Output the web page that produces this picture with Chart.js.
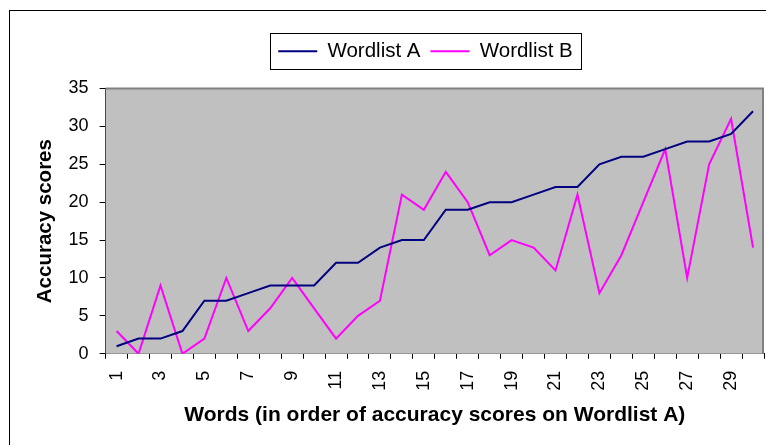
<!DOCTYPE html>
<html>
<head>
<meta charset="utf-8">
<script src="https://cdn.jsdelivr.net/npm/chart.js@4"></script>
<style>
  html, body { margin: 0; padding: 0; background: #fff; }
  #wrap { width: 766px; height: 445px; }
</style>
</head>
<body>
<div id="wrap"><canvas id="line-chart" width="766" height="445"></canvas></div>
<script>
// words 1..30, ordered by score on wordlist A
let words = []
for (let i = 1; i <= 30; i++) words.push(String(i))

let wordlistA = [1, 2, 2, 3, 7, 7, 8, 9, 9, 9, 12, 12, 14, 15, 15, 19, 19, 20, 20, 21, 22, 22, 25, 26, 26, 27, 28, 28, 29, 32]
let wordlistB = [3, 0, 9, 0, 2, 10, 3, 6, 10, 6, 2, 5, 7, 21, 19, 24, 20, 13, 15, 14, 11, 21, 8, 13, 20, 27, 10, 25, 31, 14]

const font = "'Liberation Sans', Arial, sans-serif"

// legend is moved right (over the plot) and up a bit
const legendShiftX = 27
const legendShiftY = 17

// grey plot background, outer frame, legend box
const decor = {
    id: 'decor',
    beforeDraw(chart) {
        const c = chart.ctx
        c.save()
        c.strokeStyle = '#000'
        c.lineWidth = 1
        c.strokeRect(9.5, 10.5, chart.width + 20, chart.height + 20)
        c.restore()
    },
    beforeDatasetsDraw(chart) {
        const a = chart.chartArea
        const c = chart.ctx
        c.save()
        c.fillStyle = '#c0c0c0'
        c.fillRect(a.left, a.top, a.right - a.left, a.bottom - a.top)
        c.strokeStyle = '#808080'
        c.lineWidth = 2
        c.beginPath()
        c.moveTo(a.left, a.top)
        c.lineTo(a.right - 1, a.top)
        c.lineTo(a.right - 1, a.bottom)
        c.stroke()
        c.restore()
    },
    afterUpdate(chart) {
        const l = chart.legend
        l.left += legendShiftX
        l.right += legendShiftX
        l.top -= legendShiftY
        l.bottom -= legendShiftY
    },
    afterDraw(chart) {
        const l = chart.legend
        const boxes = l.legendHitBoxes
        if (!boxes || !boxes.length) return
        const first = boxes[0], last = boxes[boxes.length - 1]
        const x0 = first.left + legendShiftX - 8
        const x1 = last.left + last.width + legendShiftX + 8
        const cy = l.top + l.height / 2
        const c = chart.ctx
        c.save()
        c.strokeStyle = '#000'
        c.lineWidth = 1
        c.strokeRect(Math.round(x0) + 0.5, Math.round(cy - 18) + 0.5, Math.round(x1 - x0), 36)
        c.restore()
    }
}

const ctx = document.getElementById('line-chart')
const myChart = new Chart(ctx, {
    type: 'line',
    data: {
        labels: words,
        datasets: [
            {
                label: 'Wordlist A',
                data: wordlistA,
                borderColor: '#000080',
                backgroundColor: '#000080',
                borderWidth: 2,
                pointRadius: 0,
                tension: 0,
                fill: false
            },
            {
                label: 'Wordlist B',
                data: wordlistB,
                borderColor: '#ff00ff',
                backgroundColor: '#ff00ff',
                borderWidth: 2,
                pointRadius: 0,
                tension: 0,
                fill: false
            }
        ]
    },
    options: {
        responsive: false,
        animation: false,
        devicePixelRatio: 1,
        layout: { padding: { top: 48, left: 33, right: 2, bottom: 17 } },
        plugins: {
            tooltip: { enabled: false },
            legend: {
                position: 'top',
                labels: {
                    usePointStyle: true,
                    pointStyle: 'line',
                    pointStyleWidth: 39,
                    boxHeight: 2,
                    color: '#000',
                    padding: 10,
                    font: { family: font, size: 20.5 }
                }
            }
        },
        scales: {
            x: {
                offset: true,
                // rotated labels should not eat into the plot width
                afterFit: function (scale) {
                    scale.paddingLeft = 0
                    scale.paddingRight = 0
                },
                grid: {
                    offset: true,
                    drawOnChartArea: false,
                    drawTicks: true,
                    tickLength: 5,
                    color: '#000'
                },
                border: { display: true, color: '#000', width: 1 },
                ticks: {
                    autoSkip: false,
                    maxRotation: 90,
                    minRotation: 90,
                    padding: 12,
                    color: '#000',
                    font: { family: font, size: 18 },
                    callback: function (value, index) {
                        return index % 2 === 0 ? words[index] : ''
                    }
                },
                title: {
                    display: true,
                    text: 'Words (in order of accuracy scores on Wordlist A)',
                    color: '#000',
                    font: { family: font, size: 21, weight: 'bold' },
                    padding: { top: 0, bottom: 0 }
                }
            },
            y: {
                min: 0,
                max: 35,
                grid: {
                    drawOnChartArea: false,
                    drawTicks: true,
                    tickLength: 6,
                    color: '#000'
                },
                border: { display: true, color: '#000', width: 1 },
                ticks: {
                    stepSize: 5,
                    padding: 11,
                    color: '#000',
                    font: { family: font, size: 18 }
                },
                title: {
                    display: true,
                    text: 'Accuracy scores',
                    color: '#000',
                    font: { family: font, size: 20.5, weight: 'bold' },
                    padding: { top: 0, bottom: 0 }
                }
            }
        }
    },
    plugins: [decor]
})
</script>
</body>
</html>
